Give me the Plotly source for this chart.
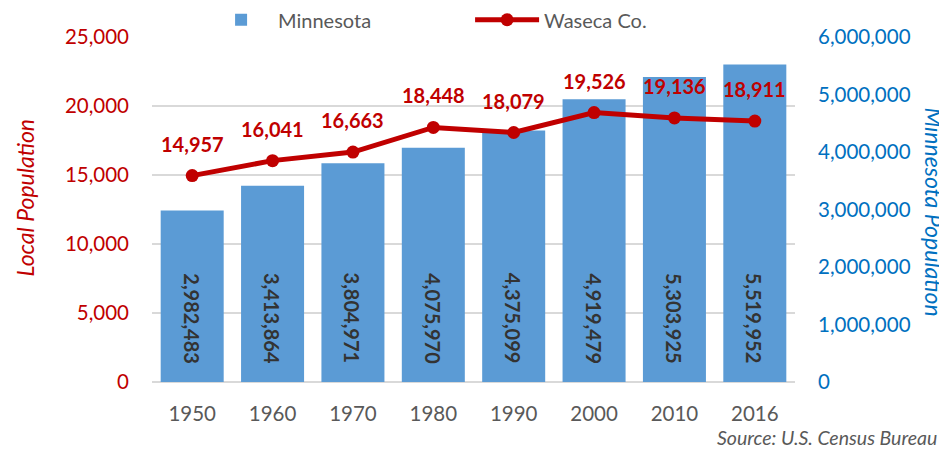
import plotly.graph_objects as go

years = ["1950", "1960", "1970", "1980", "1990", "2000", "2010", "2016"]
minnesota = [2982483, 3413864, 3804971, 4075970, 4375099, 4919479, 5303925, 5519952]
waseca = [14957, 16041, 16663, 18448, 18079, 19526, 19136, 18911]

RED = "#C00000"
BLUE_BAR = "#5B9BD5"
BLUE_AX = "#0070C0"
GRAY = "#595959"
FONT = "Lato"
TICK = 20.5

fig = go.Figure()
# bars on the base y axis (right side), line on the overlaying y2 (left side) so it draws on top
fig.add_trace(go.Bar(
    x=years, y=minnesota, name="Minnesota", yaxis="y",
    marker=dict(color=BLUE_BAR, line=dict(width=0)),
))
fig.add_trace(go.Scatter(
    x=years, y=waseca, name="Waseca Co.", yaxis="y2",
    mode="lines+markers",
    line=dict(color=RED, width=5),
    marker=dict(color=RED, size=13),
))

annotations = []
for i, v in enumerate(minnesota):
    annotations.append(dict(
        x=i, y=0, xref="x", yref="y", text=f"<b>{v:,}</b>", showarrow=False,
        textangle=90, yanchor="bottom", yshift=16,
        font=dict(family=FONT, size=20, color="#333333", weight="bold"),
    ))
for i, v in enumerate(waseca):
    annotations.append(dict(
        x=i, y=v, xref="x", yref="y2", text=f"{v:,}", showarrow=False,
        yanchor="middle", yshift=32,
        font=dict(family=FONT, size=20, color=RED, weight="bold"),
    ))
annotations.append(dict(
    x=-0.197, y=0.533, xref="paper", yref="paper", text="Local Population",
    showarrow=False, textangle=-90, xanchor="center", yanchor="middle",
    font=dict(family=FONT, size=23, color=RED, style="italic"),
))
annotations.append(dict(
    x=1.217, y=0.493, xref="paper", yref="paper", text="Minnesota Population",
    showarrow=False, textangle=90, xanchor="center", yanchor="middle",
    font=dict(family=FONT, size=23, color=BLUE_AX, style="italic"),
))
annotations.append(dict(
    x=0.8756, y=-0.16, xref="paper", yref="paper", text="Source: U.S. Census Bureau",
    showarrow=False, xanchor="left", yanchor="middle",
    font=dict(family=FONT, size=19.5, color=GRAY, style="italic"),
))

# page body has an 8px margin, so the figure is sized to fit the 947x449 window
fig.update_layout(
    width=939, height=441,
    margin=dict(l=144, r=152, t=29, b=67, autoexpand=False),
    paper_bgcolor="white", plot_bgcolor="white",
    font=dict(family=FONT, size=20, color=GRAY),
    bargap=0.216,
    showlegend=True,
    legend=dict(orientation="h", x=0.081, y=1.05, xanchor="left", yanchor="middle",
                font=dict(family=FONT, size=20, color=GRAY), itemwidth=64,
                entrywidth=187, entrywidthmode="pixels",
                bgcolor="rgba(0,0,0,0)", traceorder="normal"),
    xaxis=dict(type="category", range=[-0.5, len(years) - 0.5], showgrid=False,
               showline=False, ticks="", ticklabelstandoff=17,
               tickfont=dict(family=FONT, size=TICK, color=GRAY)),
    yaxis=dict(range=[0, 6000000], dtick=1000000, tickformat=",d",
               side="right", showgrid=False, zeroline=False, showline=False, ticks="",
               ticklabelstandoff=22, tickfont=dict(family=FONT, size=TICK, color=BLUE_AX)),
    yaxis2=dict(range=[0, 25000], dtick=5000, tickformat=",d", overlaying="y", side="left",
                showgrid=True, gridcolor="#D9D9D9", gridwidth=1.5, zeroline=True,
                zerolinecolor="#D9D9D9", zerolinewidth=2, showline=False, ticks="",
                ticklabelstandoff=22, tickfont=dict(family=FONT, size=TICK, color=RED)),
    annotations=annotations,
)

fig.write_html("out.html")
